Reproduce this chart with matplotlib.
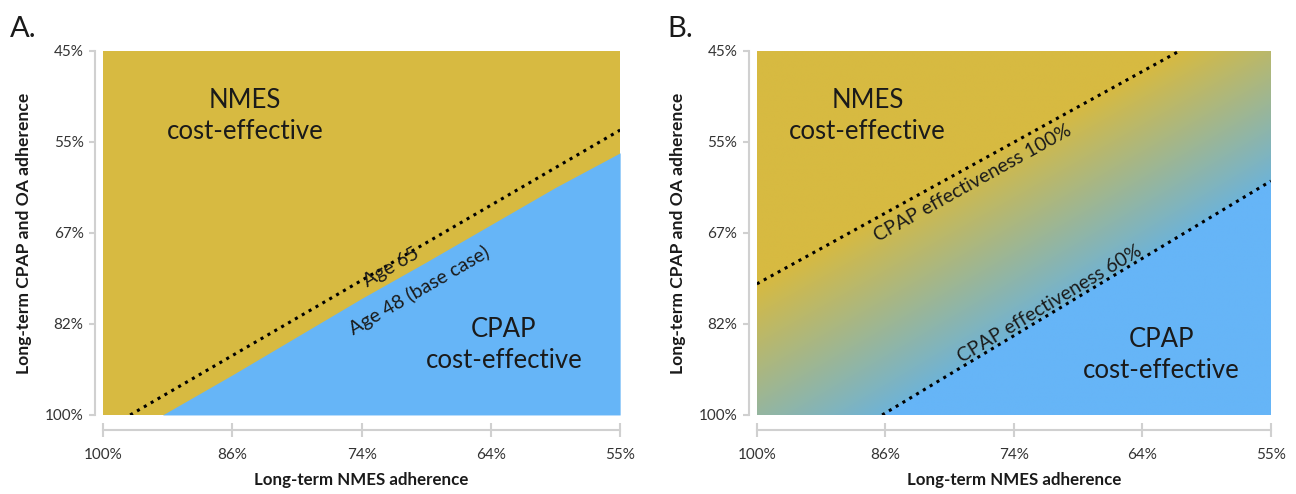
import numpy as np
import matplotlib
matplotlib.use('Agg')
import matplotlib.pyplot as plt
from matplotlib.colors import to_rgb

plt.rcParams['font.family'] = ['Lato', 'DejaVu Sans']

# axis categories (evenly spaced in the figure)
nmes_labels = ['100%', '86%', '74%', '64%', '55%']
cpap_labels = ['100%', '82%', '67%', '55%', '45%']

# panel A: threshold for base case (age 48) and age 65
age48_x = [0.46, 1.0, 1.5, 2.0, 2.5, 3.0, 3.5, 4.0]
age48_y = [0.0, 0.44, 0.86, 1.28, 1.68, 2.09, 2.50, 2.88]
age65_x = [0.21, 4.0]
age65_y = [0.0, 3.13]

# panel B: thresholds for CPAP effectiveness 100% and 60%
eff100_x = [0.0, 3.29]
eff100_y = [1.44, 4.0]
eff60_x = [0.975, 4.0]
eff60_y = [0.0, 2.57]

gold = '#D7BA41'
blue = '#66B5F7'
axis_grey = '#D0D0D0'
text_col = '#1A1A1A'


def style_axes(ax):
    ax.set_xlim(0, 4)
    ax.set_ylim(0, 4)
    ax.set_xticks(range(5))
    ax.set_xticklabels(nmes_labels)
    ax.set_yticks(range(5))
    ax.set_yticklabels(cpap_labels)
    for side in ['top', 'right']:
        ax.spines[side].set_visible(False)
    ax.spines['left'].set_position(('outward', 6))
    ax.spines['bottom'].set_position(('outward', 11))
    ax.spines['left'].set_color(axis_grey)
    ax.spines['bottom'].set_color(axis_grey)
    ax.spines['left'].set_linewidth(1.5)
    ax.spines['bottom'].set_linewidth(1.5)
    ax.tick_params(axis='x', direction='inout', length=10, width=1.5,
                   color=axis_grey, labelsize=11, labelcolor='#333333', pad=8)
    ax.tick_params(axis='y', direction='out', length=4, width=1.5,
                   color=axis_grey, labelsize=11, labelcolor='#333333', pad=4)
    ax.set_xlabel('Long-term NMES adherence', fontsize=12.2, fontweight='bold',
                  color=text_col, labelpad=7)
    ax.set_ylabel('Long-term CPAP and OA adherence', fontsize=12.6,
                  fontweight='bold', color=text_col, labelpad=9)


fig = plt.figure(figsize=(12.96, 4.94), dpi=100)
ax_a = fig.add_axes([0.0795, 0.160, 0.399, 0.737])
ax_b = fig.add_axes([0.584, 0.160, 0.3966, 0.737])

# ---- panel A ----
ax_a.set_facecolor(gold)
ax_a.fill_between(age48_x, 0, age48_y, color=blue, lw=0)
ax_a.plot(age65_x, age65_y, color='black', ls=(0, (1, 1.6)), lw=2.2)
style_axes(ax_a)

big = dict(ha='center', va='center', fontsize=18.5, color=text_col,
           linespacing=1.3)
ax_a.text(1.1, 3.28, 'NMES\ncost-effective', **big)
ax_a.text(3.1, 0.77, 'CPAP\ncost-effective', **big)
ax_a.text(2.23, 1.62, 'Age 65', ha='center', va='center', fontsize=14,
          color=text_col, rotation=30)
ax_a.text(2.45, 1.37, 'Age 48 (base case)', ha='center', va='center',
          fontsize=14, color=text_col, rotation=30)

# ---- panel B ----
gx = np.linspace(0, 4, 600)
gy = np.linspace(0, 4, 600)
X, Y = np.meshgrid(gx, gy)
s100 = (eff100_y[1] - eff100_y[0]) / (eff100_x[1] - eff100_x[0])
s60 = (eff60_y[1] - eff60_y[0]) / (eff60_x[1] - eff60_x[0])
top = eff100_y[0] + s100 * (X - eff100_x[0])
bot = eff60_y[0] + s60 * (X - eff60_x[0])
t = np.clip((top - Y) / (top - bot), 0, 1)
c_gold = np.array(to_rgb(gold))
c_mid = np.array(to_rgb('#6FB3D6'))
c_blue = np.array(to_rgb(blue))
rgb = c_gold[None, None, :] * (1 - t[..., None]) + c_mid[None, None, :] * t[..., None]
rgb[Y > top] = c_gold
rgb[Y < bot] = c_blue
ax_b.imshow(rgb, origin='lower', extent=[0, 4, 0, 4], aspect='auto',
            interpolation='bilinear')
ax_b.plot(eff100_x, eff100_y, color='black', ls=(0, (1, 1.6)), lw=2.2)
ax_b.plot(eff60_x, eff60_y, color='black', ls=(0, (1, 1.6)), lw=2.2)
style_axes(ax_b)

ax_b.text(0.86, 3.28, 'NMES\ncost-effective', **big)
ax_b.text(3.15, 0.66, 'CPAP\ncost-effective', **big)
ax_b.text(1.68, 2.55, 'CPAP effectiveness 100%', ha='center', va='center',
          fontsize=14, color=text_col, rotation=29)
ax_b.text(2.28, 1.22, 'CPAP effectiveness 60%', ha='center', va='center',
          fontsize=14, color=text_col, rotation=31)

fig.text(0.008, 0.925, 'A.', fontsize=21, color=text_col)
fig.text(0.515, 0.925, 'B.', fontsize=21, color=text_col)

fig.savefig('out.png', dpi=100)
